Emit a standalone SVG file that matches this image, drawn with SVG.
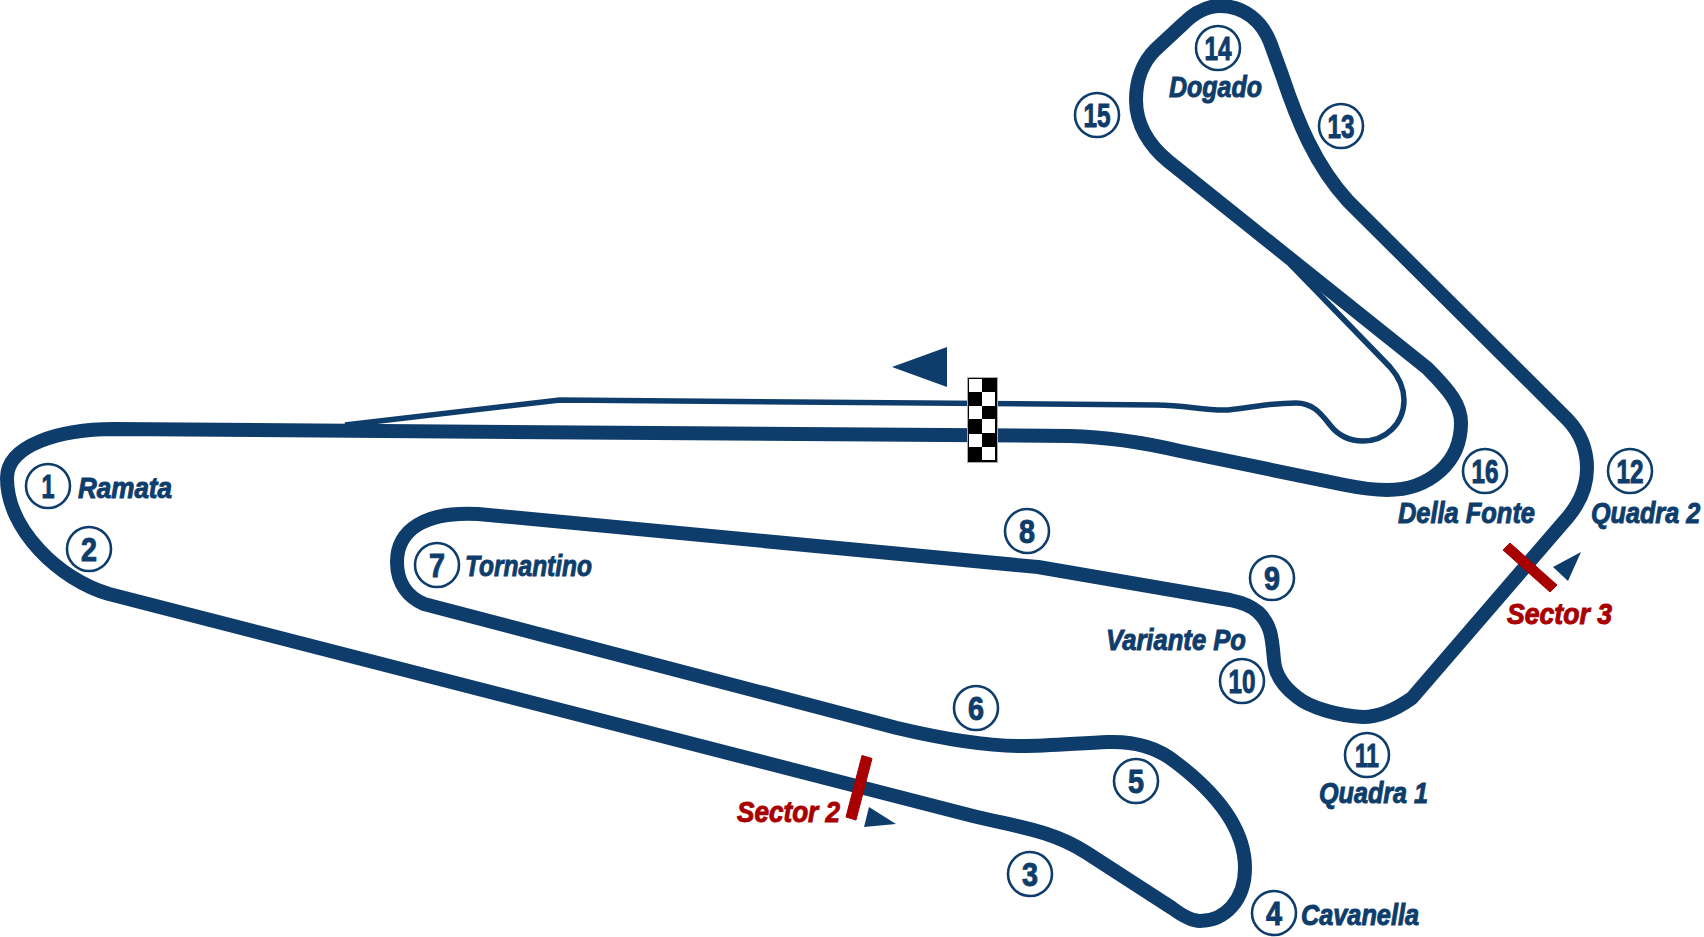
<svg xmlns="http://www.w3.org/2000/svg" width="1704" height="937" viewBox="0 0 1704 937">
<style>
.t{fill:none;stroke:#0f3d6b;stroke-linejoin:round}
.c{fill:#fff;stroke:#0f3d6b;stroke-width:2.6}
.n,.l{font-family:"Liberation Sans Narrow","Liberation Sans",sans-serif;font-weight:700;fill:#0f3d6b;stroke:#0f3d6b}
.n{font-size:34px;text-anchor:middle;stroke-width:1}
.l{font-size:30px;font-style:italic;stroke-width:1}
.r{fill:#a80000;stroke:#a80000}
.a{fill:#0f3d6b}
</style>
<rect width="1704" height="937" fill="#fff"/>
<g id="connectors">
<path id="pit-lane" class="t" stroke-width="5.500" d="M1290 264L1390 367C1398 376 1404 388 1404 400C1404 424 1385 441 1363 441C1348 441 1337 434 1330 425C1320 412 1312 403 1296 403C1270 403 1262 406 1228 410C1205 411 1185 405 1157 405L560 400L345 425"/>
<path id="track" class="t" stroke-width="14" d="M114 429L1070 436C1110 437 1150 444 1180 451L1345 485C1365 489 1376 490 1387 490C1430 490 1461 462 1461 423C1461 405 1450 391 1427 368L1168 161C1150 146 1136 125 1136 100C1136 80 1143 62 1155 50L1183 24C1195 12 1207 6 1220 6C1245 6 1262 22 1270 42L1282 75C1297 120 1315 165 1348 201L1568 420C1582 435 1587 450 1587 468C1587 490 1578 505 1568 517L1412 698C1395 710 1380 717 1363 717C1340 716 1310 708 1297 697C1285 688 1275 675 1274 660C1272 640 1272 625 1258 612C1250 605 1240 602 1230 600L1038 567L478 514C425 511 397 530 397 562C397 585 410 598 424 604L897 728C935 737 980 746 1021 746C1050 746 1080 743 1108 742C1140 741 1160 750 1174 761C1210 788 1245 825 1245 868C1245 900 1225 921 1200 921C1190 921 1180 914 1172 908L1087 853C1050 829 1012 826 973 816L109 594C60 580 7 530 7 478C7 445 60 429 114 429Z"/>
</g>
<g id="start-finish">
<path class="a" d="M892 367L947 347V387Z"/>
<rect x="967.500" y="377.500" width="30" height="85" fill="#000" stroke="#aaa" stroke-width="1"/>
<path fill="#fff" d="M969 379h13v13h-13zM982 392h13v14h-13zM969 406h13v13h-13zM982 419h13v14h-13zM969 434h13v13h-13zM982 447h13v13h-13z"/>
</g>
<g id="sector-2">
<path class="r" stroke="none" d="M862 755.500L872 758.500L856 820L846 817Z"/>
<path class="a" d="M869 807L896 824L864 827Z"/>
<text class="l r" x="737" y="822" textLength="103" lengthAdjust="spacingAndGlyphs">Sector 2</text>
</g>
<g id="sector-3">
<path class="r" d="M1510 543L1557 585L1550 592L1503 550Z"/>
<path class="a" d="M1581 552L1553 567L1568 581Z"/>
<text class="l r" x="1507" y="624" textLength="105" lengthAdjust="spacingAndGlyphs">Sector 3</text>
</g>
<g id="turn-1"><circle class="c" cx="48" cy="486" r="22"/><text class="n" x="48" y="498" textLength="13" lengthAdjust="spacingAndGlyphs">1</text><text class="l" x="78" y="498" textLength="94" lengthAdjust="spacingAndGlyphs">Ramata</text></g>
<g id="turn-2"><circle class="c" cx="89" cy="549" r="22"/><text class="n" x="89" y="561" textLength="16" lengthAdjust="spacingAndGlyphs">2</text></g>
<g id="turn-3"><circle class="c" cx="1030" cy="874" r="22"/><text class="n" x="1030" y="886" textLength="16" lengthAdjust="spacingAndGlyphs">3</text></g>
<g id="turn-4"><circle class="c" cx="1274" cy="913" r="22"/><text class="n" x="1274" y="925" textLength="16" lengthAdjust="spacingAndGlyphs">4</text><text class="l" x="1301" y="925" textLength="118" lengthAdjust="spacingAndGlyphs">Cavanella</text></g>
<g id="turn-5"><circle class="c" cx="1136" cy="781" r="22"/><text class="n" x="1136" y="793" textLength="16" lengthAdjust="spacingAndGlyphs">5</text></g>
<g id="turn-6"><circle class="c" cx="976" cy="708" r="22"/><text class="n" x="976" y="720" textLength="16" lengthAdjust="spacingAndGlyphs">6</text></g>
<g id="turn-7"><circle class="c" cx="437" cy="565" r="22"/><text class="n" x="437" y="577" textLength="16" lengthAdjust="spacingAndGlyphs">7</text><text class="l" x="465" y="576" textLength="127" lengthAdjust="spacingAndGlyphs">Tornantino</text></g>
<g id="turn-8"><circle class="c" cx="1027" cy="531" r="22"/><text class="n" x="1027" y="543" textLength="16" lengthAdjust="spacingAndGlyphs">8</text></g>
<g id="turn-9"><circle class="c" cx="1272" cy="578" r="22"/><text class="n" x="1272" y="590" textLength="16" lengthAdjust="spacingAndGlyphs">9</text></g>
<g id="turn-10"><circle class="c" cx="1242" cy="681" r="22"/><text class="n" x="1242" y="693" textLength="27" lengthAdjust="spacingAndGlyphs">10</text><text class="l" x="1106" y="650" textLength="140" lengthAdjust="spacingAndGlyphs">Variante Po</text></g>
<g id="turn-11"><circle class="c" cx="1367" cy="755" r="22"/><text class="n" x="1367" y="767" textLength="24" lengthAdjust="spacingAndGlyphs">11</text><text class="l" x="1319" y="803" textLength="109" lengthAdjust="spacingAndGlyphs">Quadra 1</text></g>
<g id="turn-12"><circle class="c" cx="1630" cy="471" r="22"/><text class="n" x="1630" y="483" textLength="27" lengthAdjust="spacingAndGlyphs">12</text><text class="l" transform="translate(1591 523) scale(.84 1)" x="0" y="0">Quadra 2</text></g>
<g id="turn-13"><circle class="c" cx="1341" cy="126" r="22"/><text class="n" x="1341" y="138" textLength="27" lengthAdjust="spacingAndGlyphs">13</text></g>
<g id="turn-14"><circle class="c" cx="1218" cy="48" r="22"/><text class="n" x="1218" y="60" textLength="27" lengthAdjust="spacingAndGlyphs">14</text><text class="l" x="1169" y="97" textLength="93" lengthAdjust="spacingAndGlyphs">Dogado</text></g>
<g id="turn-15"><circle class="c" cx="1097" cy="115" r="22"/><text class="n" x="1097" y="127" textLength="27" lengthAdjust="spacingAndGlyphs">15</text></g>
<g id="turn-16"><circle class="c" cx="1485" cy="471" r="22"/><text class="n" x="1485" y="483" textLength="27" lengthAdjust="spacingAndGlyphs">16</text><text class="l" x="1398" y="523" textLength="137" lengthAdjust="spacingAndGlyphs">Della Fonte</text></g>
</svg>
